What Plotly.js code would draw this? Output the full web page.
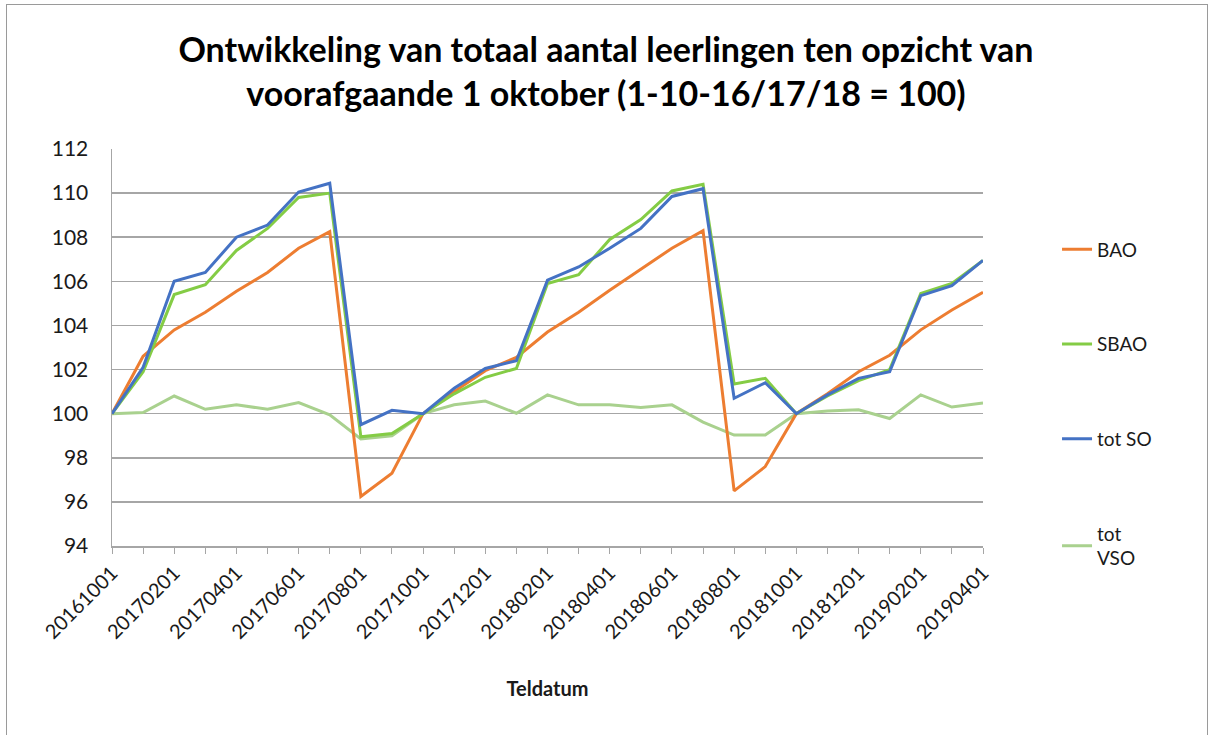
<!DOCTYPE html>
<html>
<head>
<meta charset="utf-8">
<script src="https://cdn.plot.ly/plotly-3.0.1.min.js"></script>
<style>
  html, body { margin: 0; padding: 0; background: #fff; }
  #wrap { position: relative; width: 1212px; height: 735px; }
  #chart { width: 1212px; height: 735px; }
  #frame { position: absolute; left: 6px; top: 4px; width: 1200px; height: 740px; border: 1px solid #9a9a9a; pointer-events: none; }
</style>
</head>
<body>
<div id="wrap">
  <div id="chart"></div>
  <div id="frame"></div>
</div>
<script>
const dates = ["20161001","20170101","20170201","20170301","20170401","20170501","20170601","20170701","20170801","20170901",
               "20171001","20171101","20171201","20180101","20180201","20180301","20180401","20180501","20180601","20180701",
               "20180801","20180901","20181001","20181101","20181201","20190101","20190201","20190301","20190401"];

const bao    = [100, 102.6, 103.8, 104.6, 105.55, 106.4, 107.5, 108.25, 96.25, 97.3,
                100, 101.0, 101.95, 102.55, 103.7, 104.6, 105.6, 106.55, 107.5, 108.3,
                96.5, 97.6, 100, 100.9, 101.9, 102.65, 103.8, 104.7, 105.5];
const sbao   = [100, 101.9, 105.4, 105.85, 107.4, 108.4, 109.8, 110.0, 98.95, 99.1,
                100, 100.9, 101.65, 102.05, 105.9, 106.3, 107.9, 108.8, 110.1, 110.4,
                101.35, 101.6, 100, 100.8, 101.5, 102.0, 105.45, 105.9, 106.95];
const totSO  = [100, 102.1, 106.0, 106.4, 108.0, 108.55, 110.05, 110.45, 99.5, 100.15,
                100, 101.15, 102.05, 102.4, 106.05, 106.65, 107.5, 108.4, 109.85, 110.2,
                100.7, 101.4, 100, 100.85, 101.6, 101.9, 105.35, 105.8, 106.95];
const totVSO = [100, 100.05, 100.8, 100.2, 100.4, 100.2, 100.5, 99.95, 98.85, 99.0,
                100, 100.4, 100.57, 100.02, 100.85, 100.4, 100.4, 100.28, 100.4, 99.62,
                99.03, 99.03, 100, 100.12, 100.18, 99.78, 100.85, 100.3, 100.48];

const seriesNames = ["BAO", "SBAO", "tot SO", "tot<br>VSO"];
const yTicks = [94, 96, 98, 100, 102, 104, 106, 108, 110, 112];

const colors = ["#ED7D31", "#84CC45", "#4472C4", "#A9D18E"];
const allSeries = [bao, sbao, totSO, totVSO];

const traces = allSeries.map((vals, i) => ({
  type: "scatter",
  mode: "lines",
  x: dates,
  y: vals,
  name: seriesNames[i],
  legendgroup: "g" + i,
  legendrank: i + 1,
  line: { color: colors[i], width: 3 }
}));
const drawOrder = [traces[3], traces[0], traces[1], traces[2]];

const tickText = dates.map((d, i) => (i % 2 === 0 ? d : ""));

const font = "Lato, 'Open Sans', sans-serif";

const layout = {
  width: 1212,
  height: 735,
  margin: { l: 112, r: 229, t: 149, b: 189 },
  paper_bgcolor: "#ffffff",
  plot_bgcolor: "#ffffff",
  font: { family: font, color: "#1a1a1a", size: 16 },
  title: {
    text: "<b>Ontwikkeling van totaal aantal leerlingen ten opzicht van<br>voorafgaande 1 oktober (1-10-16/17/18 = 100)</b>",
    font: { family: font, size: 34, color: "#000000" },
    x: 0.5, xref: "container", xanchor: "center",
    y: 0.916, yanchor: "top"
  },
  xaxis: {
    type: "category",
    range: [0, dates.length - 1],
    tickmode: "array",
    tickvals: dates,
    ticktext: tickText,
    tickangle: -45,
    ticks: "outside",
    ticklen: 6,
    tickcolor: "#a6a6a6",
    showline: true,
    linecolor: "#a6a6a6",
    linewidth: 1.5,
    showgrid: false,
    zeroline: false,
    tickfont: { family: font, size: 20, color: "#1a1a1a" },
    title: { text: "<b>Teldatum</b>", font: { family: font, size: 20, color: "#1a1a1a" }, standoff: 40 }
  },
  yaxis: {
    range: [94, 112],
    tickmode: "array",
    tickvals: yTicks,
    ticks: "",
    showline: true,
    linecolor: "#a6a6a6",
    linewidth: 1.5,
    showgrid: true,
    gridcolor: "#a6a6a6",
    gridwidth: 1.5,
    zeroline: false,
    tickfont: { family: font, size: 21, color: "#1a1a1a" },
    ticklabelstandoff: 18
  },
  showlegend: true,
  legend: {
    x: 1.085, xanchor: "left",
    y: 0.795, yanchor: "top",
    tracegroupgap: 67,
    font: { family: font, size: 19, color: "#1a1a1a" },
    bgcolor: "rgba(0,0,0,0)"
  }
};

Plotly.newPlot("chart", drawOrder, layout, { displayModeBar: false, staticPlot: true });
</script>
</body>
</html>
